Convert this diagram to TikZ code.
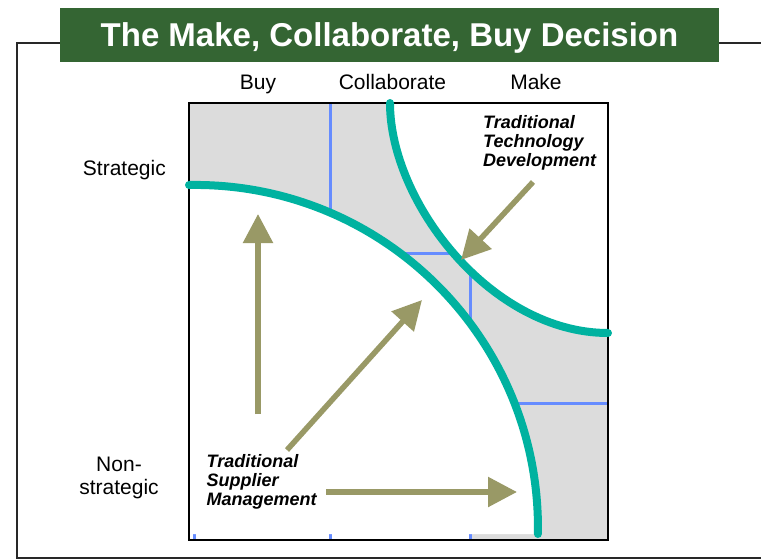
\documentclass[tikz,border=0pt]{standalone}
\usepackage{fontspec}
\setmainfont{Liberation Sans}
\usetikzlibrary{arrows.meta}

\definecolor{titlegreen}{RGB}{52,101,51}
\definecolor{cellgray}{RGB}{220,220,220}
\definecolor{gridblue}{RGB}{102,140,255}
\definecolor{olive}{RGB}{153,153,102}
\definecolor{teal}{RGB}{0,178,160}
\definecolor{framegray}{RGB}{40,40,40}

\tikzset{
  frameline/.style={draw=framegray, line width=2pt},
  gridline/.style={draw=gridblue, line width=3pt},
  boundary/.style={draw=teal, line width=8pt, line cap=round},
  pointer/.style={draw=olive, line width=5.5pt, -{Triangle[length=29pt,width=29pt]}},
  axislabel/.style={font=\fontsize{21}{23}\selectfont, inner sep=0pt},
  notelabel/.style={font=\fontsize{18}{19}\selectfont\bfseries\itshape, align=left, inner sep=0pt, anchor=north west},
}

\begin{document}
\begin{tikzpicture}[x=1pt, y=-1pt]
  \useasboundingbox (0,0) rectangle (761,560);

  % outer frame and title banner
  \draw[frameline] (60,43) -- (17,43) -- (17,558) -- (761,558);
  \draw[frameline] (719,43) -- (761,43);
  \fill[titlegreen] (60,8) rectangle (719,62);
  \node[anchor=base, text=white, inner sep=0pt,
        font=\fontsize{33}{36}\selectfont\bfseries] (title) at (389.5,46)
        {The Make, Collaborate, Buy Decision};

  % column and row headings
  \node[axislabel, anchor=base] (buy) at (258,89) {Buy};
  \node[axislabel, anchor=base] (collab) at (392.5,89) {Collaborate};
  \node[axislabel, anchor=base] (make) at (536,89) {Make};
  \node[axislabel, anchor=base east] (strat) at (166,175) {Strategic};
  \node[axislabel, anchor=north, align=center] (nonstrat) at (119,457) {Non-\\strategic};

  % cell shading: everything grey except the two lower-left cells
  \fill[cellgray] (189,103) rectangle (608,403);
  \fill[cellgray] (470,403) rectangle (608,540);

  % grid lines between the cells
  \draw[gridline] (330,103) -- (330,540);
  \draw[gridline] (470,103) -- (470,540);
  \draw[gridline] (189,253) -- (608,253);
  \draw[gridline] (189,403) -- (608,403);
  \draw[gridline] (194,528) -- (194,540);

  % white regions bounded by the two curves
  \fill[white] (189,185) .. controls (383.1,181.6) and (541.3,339.9) .. (537.9,534)
               -- (189,534) -- cycle;
  \fill[white] (390,103) .. controls (390,202) and (491,333) .. (608,333)
               -- (608,103) -- cycle;

  % matrix border
  \draw[black, line width=2.5pt] (189,103) rectangle (608,540);

  % boundary curves
  \draw[boundary] (189,185) .. controls (383.1,181.6) and (541.3,339.9) .. (537.9,534);
  \draw[boundary] (390,103) .. controls (390,202) and (491,333) .. (608,333);

  % annotations
  \node[notelabel] (ttd) at (483,114.9) {Traditional\\Technology\\Development};
  \node[notelabel] (tsm) at (206.5,453.9) {Traditional\\Supplier\\Management};

  % arrows
  \coordinate (upTail) at (258,414);
  \coordinate (upTip) at (258,214);
  \coordinate (diagTail) at (287,450);
  \coordinate (diagTip) at (422,300);
  \coordinate (rightTail) at (326,492);
  \coordinate (rightTip) at (517,492);
  \coordinate (ttdTail) at (533,182);
  \coordinate (ttdTip) at (461,260);
  \draw[pointer] (upTail) -- (upTip);
  \draw[pointer] (diagTail) -- (diagTip);
  \draw[pointer] (rightTail) -- (rightTip);
  \draw[pointer] (ttdTail) -- (ttdTip);
\end{tikzpicture}
\end{document}
